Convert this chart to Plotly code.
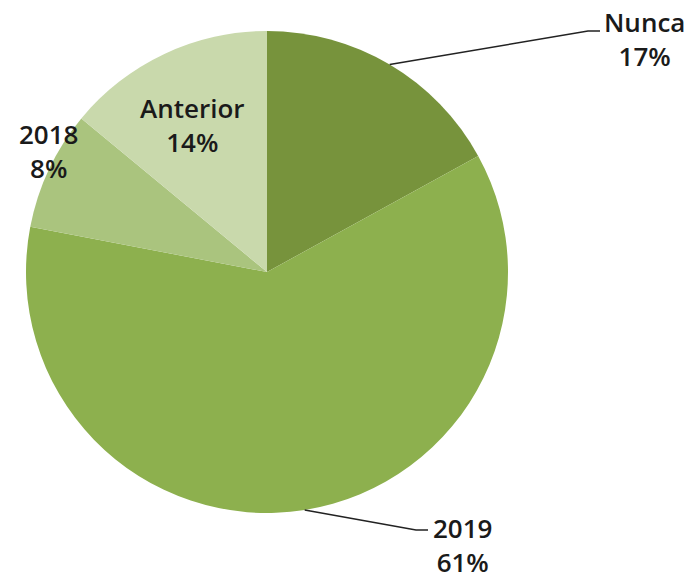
import math
import plotly.graph_objects as go

labels = ["Nunca", "2019", "2018", "Anterior"]
values = [17, 61, 8, 14]
colors = ["#77933C", "#8DB04E", "#AAC47E", "#C9D9AC"]

W, H = 693, 580
CX, CY, R = 267, 272, 241  # pie centre / radius in pixels

fig = go.Figure(go.Pie(
    labels=labels, values=values, sort=False, direction="clockwise", rotation=0,
    marker=dict(colors=colors, line=dict(width=0)),
    textinfo="none", hoverinfo="label+percent", showlegend=False,
    domain=dict(x=[(CX - R) / W, (CX + R) / W], y=[(H - CY - R) / H, (H - CY + R) / H]),
))

font = dict(family="Open Sans, sans-serif", size=26, color="#1a1a1a", weight=600)
# label anchor positions (pixels) for each slice
label_pos = {"Nunca": (644, 39), "2019": (462, 545), "2018": (48, 151), "Anterior": (192, 125)}
leader_end = {"Nunca": (600, 31), "2019": (428, 530)}

total = sum(values)
cum = 0
for lab, v in zip(labels, values):
    mid = (cum + v / 2) / total * 2 * math.pi
    cum += v
    pct = round(v / total * 100)
    lx, ly = label_pos[lab]
    fig.add_annotation(x=lx / W, y=1 - ly / H, xref="paper", yref="paper",
                       text=f"{lab}<br>{pct}%", showarrow=False, font=font,
                       align="center", xanchor="center", yanchor="middle")
    if lab in leader_end:
        ex, ey = CX + R * math.sin(mid), CY - R * math.cos(mid)
        tx, ty = leader_end[lab]
        fig.add_shape(type="path", xref="paper", yref="paper",
                      path=f"M {ex / W} {1 - ey / H} L {(tx - 12) / W} {1 - ty / H} L {tx / W} {1 - ty / H}",
                      line=dict(color="#222222", width=1.5))

fig.update_layout(width=W, height=H, margin=dict(l=0, r=0, t=0, b=0),
                  paper_bgcolor="white", plot_bgcolor="white")
fig.write_html("out.html", config={"displayModeBar": False},
               post_script="document.body.style.margin='0';document.body.style.padding='0';")
